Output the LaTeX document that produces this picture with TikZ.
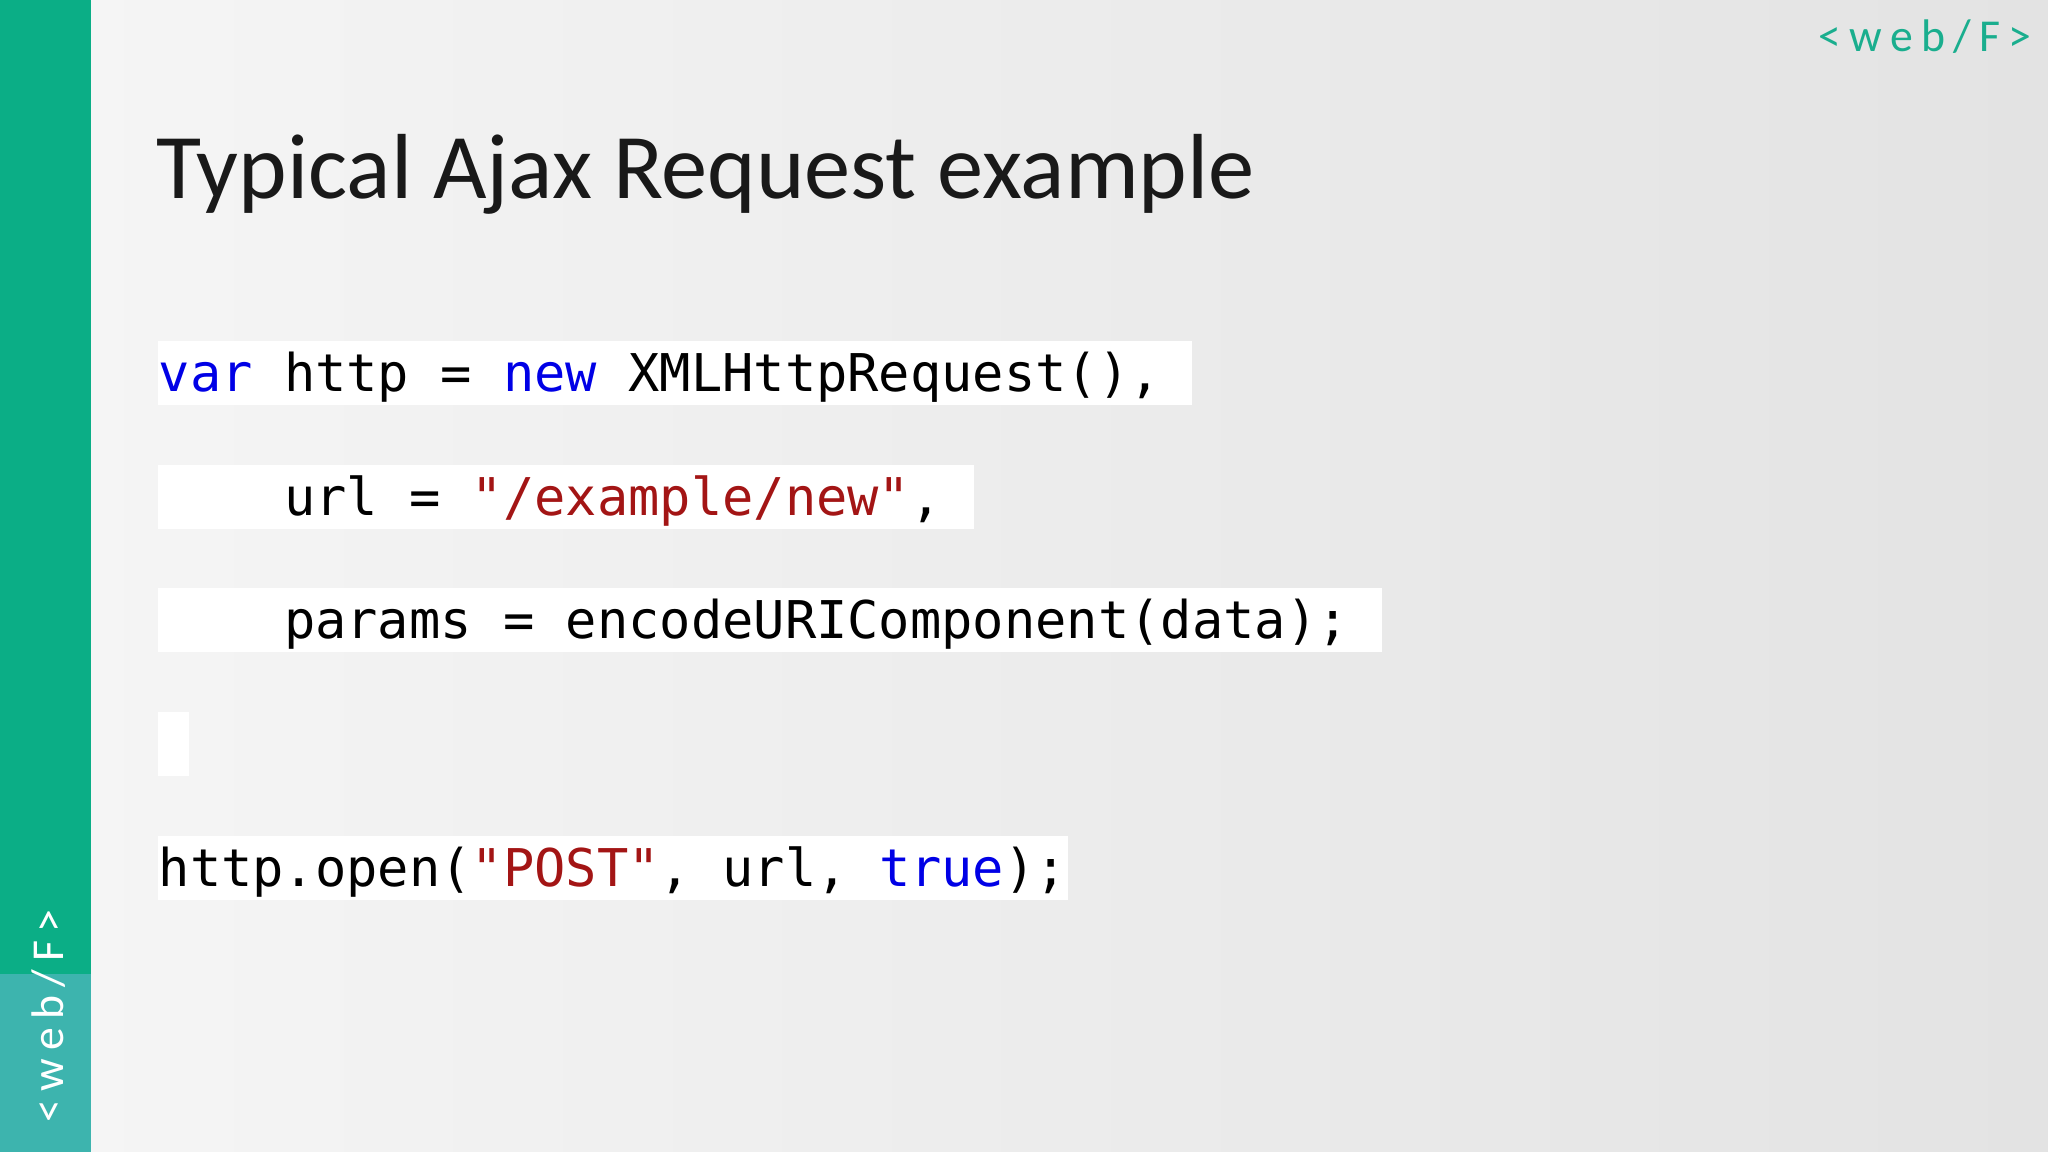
\documentclass[tikz,border=0pt]{standalone}
\usepackage{fontspec}
\setmainfont{Carlito}
\setmonofont{DejaVu Sans Mono}
\newfontfamily\logofont[LetterSpace=18]{Carlito}
\definecolor{bargreen}{HTML}{0BAE86}
\definecolor{barteal}{HTML}{3DB4AE}
\definecolor{kwblue}{HTML}{0000E6}
\definecolor{strred}{HTML}{A31515}
\definecolor{logoteal}{HTML}{1AAE8E}
\tikzset{
  codebox/.style={fill=white,draw=none},
  code/.style={anchor=base west,inner sep=0pt,font=\fontsize{14.8}{16}\selectfont\ttfamily},
  logo/.style={inner sep=0pt,font=\fontsize{13}{14}\selectfont\logofont},
}
\begin{document}
\begin{tikzpicture}[x=0.013061cm,y=-0.013061cm]
\useasboundingbox (0,0) rectangle (1568,882);
\shade[left color=gray!8,right color=gray!22] (70,0) rectangle (1568,882);
\fill[bargreen] (0,0) rectangle (70,746);
\fill[barteal] (0,746) rectangle (70,882);
\node[logo,rotate=90,text=white] (sidelogo) at (37,778) {<web/F>};
\node[logo,text=logoteal] (toplogo) at (1474,28) {<web/F>};
\node[anchor=base west,inner sep=0pt,font=\fontsize{26.3}{30}\selectfont,text=black!90] (title) at (119,152) {Typical Ajax Request example};
\fill[codebox] (121,261) rectangle (913,310);
\fill[codebox] (121,356) rectangle (746,405);
\fill[codebox] (121,450) rectangle (1058,499);
\fill[codebox] (121,545) rectangle (145,594);
\fill[codebox] (121,640) rectangle (818,689);
\node[code] (l1) at (121,300) {\textcolor{kwblue}{var} http = \textcolor{kwblue}{new} XMLHttpRequest(),};
\node[code] (l2) at (121,395) {~~~~url = \textcolor{strred}{"/example/new"},};
\node[code] (l3) at (121,489) {~~~~params = encodeURIComponent(data);};
\node[code] (l5) at (121,679) {http.open(\textcolor{strred}{"POST"}, url, \textcolor{kwblue}{true});};
\end{tikzpicture}
\end{document}
